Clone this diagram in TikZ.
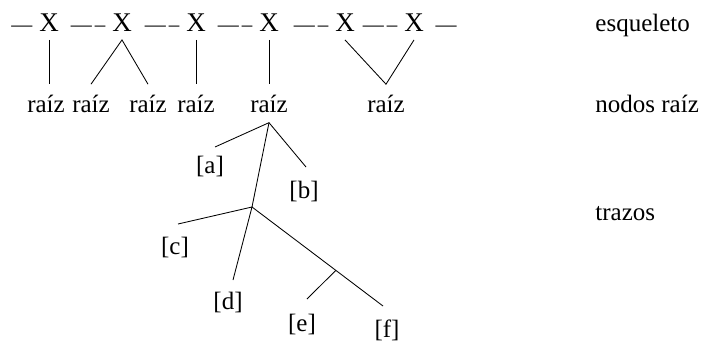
\documentclass[tikz,border=0pt]{standalone}
\usepackage{fontspec}
\setmainfont{Liberation Serif}
\usetikzlibrary{positioning, calc}

\begin{document}
\begin{tikzpicture}[x=1pt, y=-1pt, line width=0.85pt,
    every node/.style={font=\fontsize{25}{30}\selectfont},
    skel/.style={inner xsep=0pt, inner ysep=8.5pt, anchor=base,
      font=\fontsize{27}{30}\selectfont},
    dashes/.style={inner sep=0pt, font=\fontsize{21}{25}\selectfont},
    root/.style={inner xsep=0pt, inner ysep=10pt, anchor=base},
    leaf/.style={inner sep=1pt},
    level/.style={anchor=base west, inner sep=0pt}]
  \useasboundingbox (0,0) rectangle (708,341);

  % esqueleto
  \foreach \i/\x in {1/49,2/122,3/196,4/269,5/345,6/414}
    \node[skel] (x\i) at (\x,31) {X};
  \foreach \i/\j in {1/2,2/3,3/4,4/5,5/6}
    \node[dashes, base left=6pt of x\j] (s\i) {—\kern3pt–};
  \node[dashes, base left=6pt of x1] (s0) {—};
  \node[dashes, base right=11pt of x6] (s6) {—};

  % nodos raíz
  \foreach \i/\x in {1/46,2/91,3/148,4/196,5/269,6/386}
    \node[root] (r\i) at (\x,112) {raíz};
  \draw (x1.south) -- (x1.south |- r1.north);
  \draw (r2.north) -- (x2.south) -- (r3.north);
  \draw (x3.south) -- (r4.north);
  \draw (x4.south) -- (r5.north);
  \draw (x5.south) -- (r6.north) -- (x6.south);

  % trazos
  \coordinate (t1) at (252,207);
  \coordinate (ea) at (215,147);
  \coordinate (eb) at (306,167);
  \coordinate (ec) at (178,224);
  \coordinate (ed) at (233,280);
  \coordinate (ef) at (383,306);
  \coordinate (t2) at ($(t1)!0.64!(ef)$);
  \coordinate (ee) at (307,299);
  \draw (ea) -- (r5.south) -- (eb);
  \draw (r5.south) -- (t1);
  \draw (ec) -- (t1) -- (ed);
  \draw (t1) -- (ef);
  \draw (t2) -- (ee);

  \node[leaf, below=8pt of ea, xshift=-5pt] (la) {[a]};
  \node[leaf, below=13pt of eb, xshift=-2pt] (lb) {[b]};
  \node[leaf, below=12pt of ec, xshift=-3pt] (lc) {[c]};
  \node[leaf, below=11pt of ed, xshift=-5pt] (ld) {[d]};
  \node[leaf, below=14pt of ee, xshift=-5pt] (le) {[e]};
  \node[leaf, below=12pt of ef, xshift=4pt] (lf) {[f]};

  % niveles
  \node[level] (n1) at (595,31) {esqueleto};
  \node[level] (n2) at (595,112) {nodos raíz};
  \node[level] (n3) at (595,220) {trazos};
\end{tikzpicture}
\end{document}
